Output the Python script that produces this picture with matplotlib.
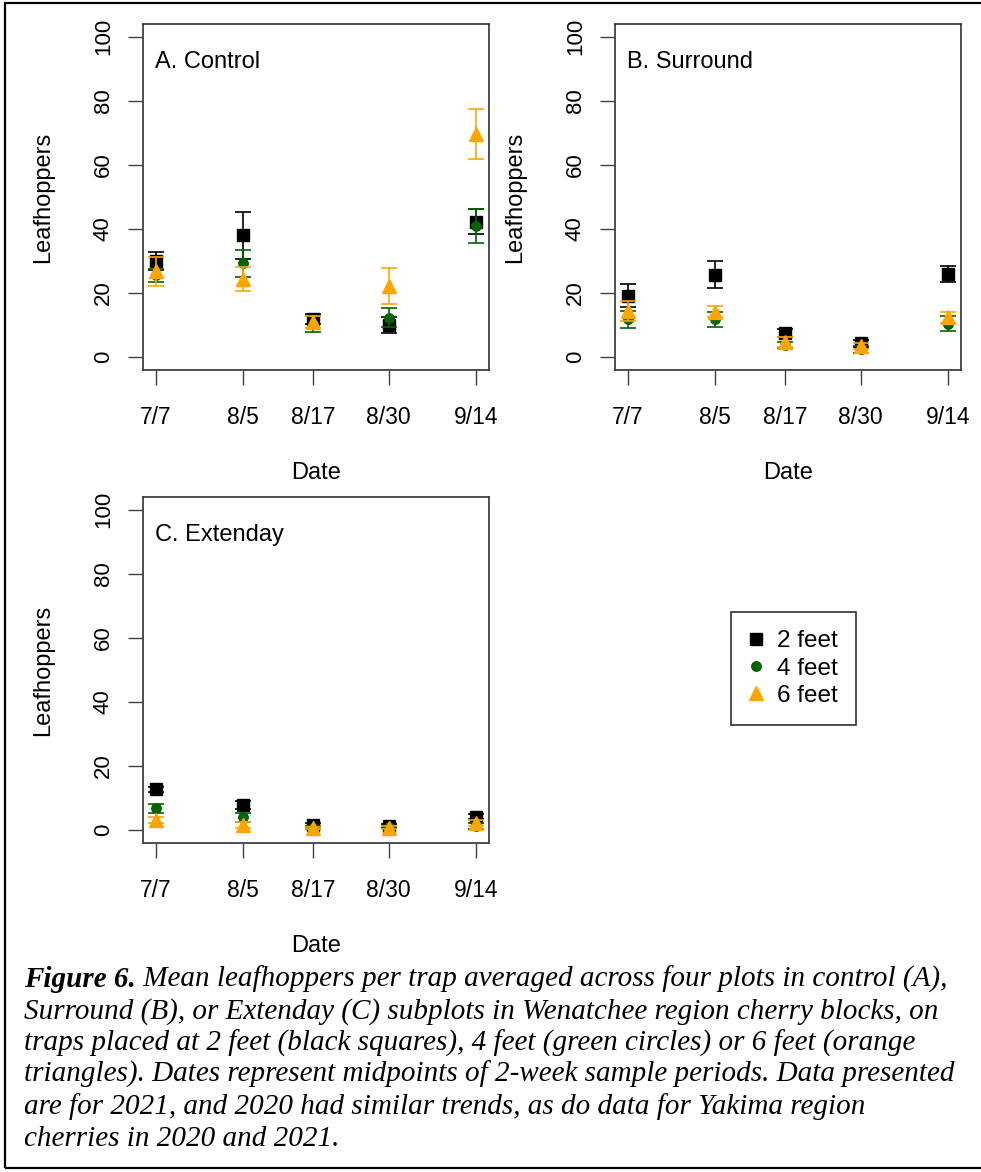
import matplotlib
matplotlib.use('Agg')
import matplotlib.pyplot as plt
from matplotlib.patches import Rectangle

plt.rcParams['font.family'] = ['Liberation Sans', 'DejaVu Sans']

# sample dates (midpoints of 2-week periods) and their spacing on the x axis
dates = ['7/7', '8/5', '8/17', '8/30', '9/14']
date_pos = [1.0, 2.0, 2.8, 3.66, 4.66]

# A. Control
control_2ft = [30.0, 38.0, 12.0, 10.0, 42.3]
control_2ft_se = [2.7, 7.3, 1.5, 2.4, 4.0]
control_4ft = [25.5, 29.3, 10.5, 12.3, 41.0]
control_4ft_se = [2.0, 4.3, 2.5, 3.0, 5.3]
control_6ft = [26.8, 24.4, 11.0, 22.2, 69.8]
control_6ft_se = [4.6, 3.7, 2.0, 5.5, 7.8]

# B. Surround
surround_2ft = [19.2, 25.8, 7.6, 4.3, 25.9]
surround_2ft_se = [3.5, 4.2, 1.2, 1.0, 2.5]
surround_4ft = [11.8, 11.8, 3.8, 2.4, 10.5]
surround_4ft_se = [2.6, 2.3, 1.0, 1.0, 2.3]
surround_6ft = [14.4, 14.2, 4.8, 3.4, 12.4]
surround_6ft_se = [3.0, 1.8, 1.5, 1.0, 1.8]

# C. Extenday
extenday_2ft = [12.7, 7.8, 1.6, 1.4, 4.2]
extenday_2ft_se = [0.8, 1.2, 0.5, 0.5, 0.8]
extenday_4ft = [6.8, 4.0, 0.8, 1.0, 1.3]
extenday_4ft_se = [1.5, 1.5, 0.4, 0.4, 0.8]
extenday_6ft = [3.1, 1.6, 0.7, 0.8, 2.3]
extenday_6ft_se = [1.0, 0.8, 0.4, 0.4, 1.0]

heights = ['2 feet', '4 feet', '6 feet']
colors = ['black', 'darkgreen', 'orange']
markers = ['s', 'o', '^']
msizes = [8.0, 6.8, 9.6]

panels = [
    ('A. Control', [control_2ft, control_4ft, control_6ft],
     [control_2ft_se, control_4ft_se, control_6ft_se]),
    ('B. Surround', [surround_2ft, surround_4ft, surround_6ft],
     [surround_2ft_se, surround_4ft_se, surround_6ft_se]),
    ('C. Extenday', [extenday_2ft, extenday_4ft, extenday_6ft],
     [extenday_2ft_se, extenday_4ft_se, extenday_6ft_se]),
]

W, H = 981, 1172
fig = plt.figure(figsize=(W / 100, H / 100), dpi=100)

# axes boxes in pixels: (left, top, width, height)
boxes = [(143, 24, 346, 346), (615, 24, 346, 346), (143, 497, 346, 346)]

span = date_pos[-1] - date_pos[0]
handles = []
for (title, series, errs), (l, t, w, h) in zip(panels, boxes):
    ax = fig.add_axes([l / W, 1 - (t + h) / H, w / W, h / H])
    for i in range(3):
        c = ax.errorbar(date_pos, series[i], yerr=errs[i], fmt=markers[i],
                        color=colors[i], ecolor=colors[i], markersize=msizes[i],
                        elinewidth=1.2, capsize=5.5, capthick=1.2, zorder=3 + i)
        if len(handles) < 3:
            handles.append(c.lines[0])
    ax.set_xlim(date_pos[0] - 0.04 * span, date_pos[-1] + 0.04 * span)
    ax.set_ylim(-4, 104)
    ax.set_xticks(date_pos)
    ax.set_xticklabels(dates)
    ax.set_yticks([0, 20, 40, 60, 80, 100])
    ax.tick_params(axis='x', length=11, width=1.0, pad=15, labelsize=16.5, color='#404040')
    ax.tick_params(axis='y', length=11, width=1.0, pad=10, labelsize=16,
                   labelrotation=90, color='#404040')
    for lab in ax.get_yticklabels():
        lab.set_va('center')
    for sp in ax.spines.values():
        sp.set_color('#404040')
        sp.set_linewidth(1.3)
    ax.text(date_pos[0] - 0.01, 92, title, fontsize=17, ha='left', va='center')
    ax.text(0.5, -103 / h, 'Date', fontsize=17, ha='center', va='center',
            transform=ax.transAxes)
    ax.text(-0.288, 0.5, 'Leafhoppers', fontsize=17, ha='center', va='center',
            rotation=90, transform=ax.transAxes)

leg = fig.legend(handles, heights, loc='upper left',
                 bbox_to_anchor=(731 / W, 1 - 612 / H), bbox_transform=fig.transFigure,
                 fontsize=17.5, fancybox=False, framealpha=1, edgecolor='#404040',
                 borderpad=0.75, handlelength=0.55, handletextpad=0.6,
                 labelspacing=0.22, borderaxespad=0)
leg.get_frame().set_linewidth(1.3)

# caption
cap_lines = [
    ' Mean leafhoppers per trap averaged across four plots in control (A),',
    'Surround (B), or Extenday (C) subplots in Wenatchee region cherry blocks, on',
    'traps placed at 2 feet (black squares), 4 feet (green circles) or 6 feet (orange',
    'triangles). Dates represent midpoints of 2-week sample periods. Data presented',
    'are for 2021, and 2020 had similar trends, as do data for Yakima region',
    'cherries in 2020 and 2021.',
]
baselines = [987, 1019, 1051, 1082, 1114, 1146]
cap_font = dict(family='Liberation Serif', style='italic', fontsize=21, va='baseline')
x0 = 24 / W
bold = fig.text(x0, 1 - baselines[0] / H, 'Figure 6.', weight='bold', **cap_font)
r = fig.canvas.get_renderer()
bb = bold.get_window_extent(r)
fig.text(bb.x1 / W, 1 - baselines[0] / H, cap_lines[0], **cap_font)
for line, yb in zip(cap_lines[1:], baselines[1:]):
    fig.text(x0, 1 - yb / H, line, **cap_font)

# outer frame
fig.add_artist(Rectangle((5 / W, 1 - 1168 / H), 990 / W, 1165 / H, fill=False,
                         edgecolor='black', linewidth=1.6, transform=fig.transFigure,
                         clip_on=False))

fig.savefig('out.png', dpi=100)
